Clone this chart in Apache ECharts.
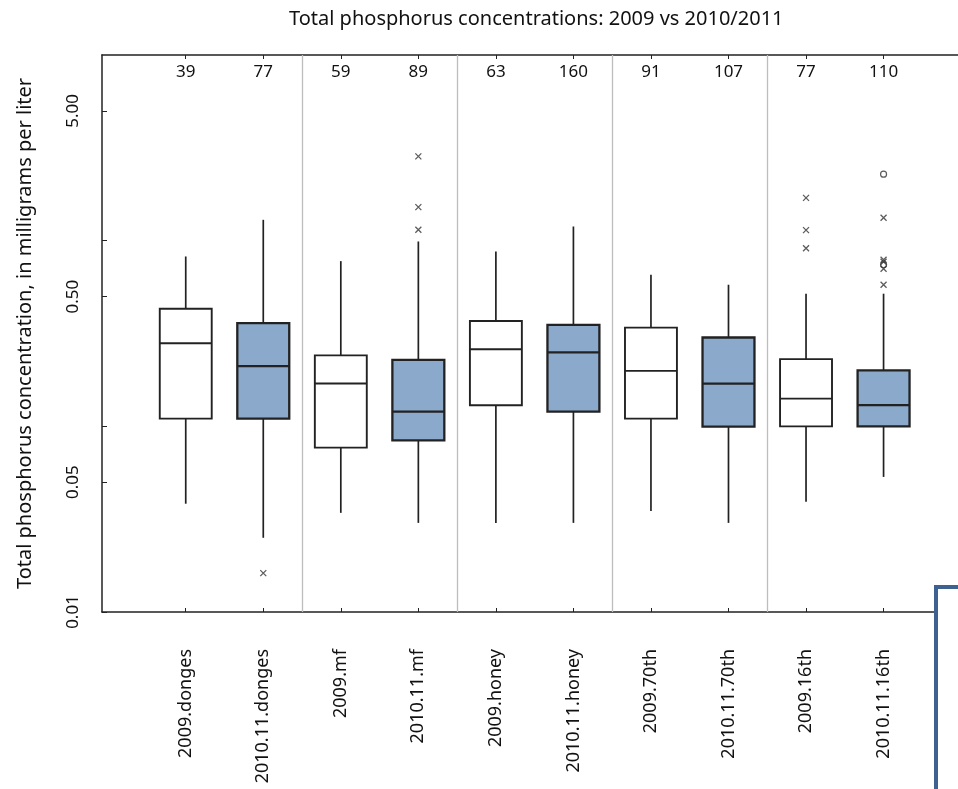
<!DOCTYPE html>
<html><head><meta charset="utf-8">
<script src="https://cdn.jsdelivr.net/npm/echarts@6/dist/echarts.min.js"></script>
<style>html,body{margin:0;padding:0;background:#fff}#c{width:958px;height:789px}</style>
</head><body><div id="c"></div>
<script>
// ---- data ----
const categories = ['2009.donges','2010.11.donges','2009.mf','2010.11.mf','2009.honey','2010.11.honey','2009.70th','2010.11.70th','2009.16th','2010.11.16th'];
const counts = [39, 77, 59, 89, 63, 160, 91, 107, 77, 110];
const whiskerLow  = [0.0383, 0.0251, 0.0342, 0.0302, 0.0302, 0.0302, 0.0350, 0.0302, 0.0392, 0.0534];
const q1          = [0.110, 0.110, 0.0768, 0.0840, 0.130, 0.120, 0.110, 0.0996, 0.100, 0.100];
const median      = [0.280, 0.211, 0.170, 0.120, 0.260, 0.250, 0.199, 0.170, 0.141, 0.130];
const q3          = [0.430, 0.360, 0.241, 0.228, 0.369, 0.352, 0.340, 0.301, 0.230, 0.200];
const whiskerHigh = [0.822, 1.295, 0.776, 0.990, 0.875, 1.192, 0.655, 0.579, 0.518, 0.518];
const period      = ['2009','2010/11','2009','2010/11','2009','2010/11','2009','2010/11','2009','2010/11'];
// outliers: [category index (0-based), value]
const outliersCross = [[1, 0.0162], [3, 2.845], [3, 1.516], [3, 1.144], [8, 1.70], [8, 1.14], [8, 0.91],
                       [9, 1.33], [9, 0.789], [9, 0.77], [9, 0.706], [9, 0.579]];
const outliersCircle = [[9, 2.28], [9, 0.741]];
const separators = [2.5, 4.5, 6.5, 8.5];
const yTickValues = [0.01, 0.05, 0.1, 0.5, 1, 5];
const yLabelValues = [0.01, 0.05, 0.5, 5];

// ---- build ----
const positions = categories.map((c, i) => i + 1);
const boxData = categories.map((c, i) => [i + 1, whiskerLow[i], q1[i], median[i], q3[i], whiskerHigh[i], period[i] === '2009' ? 0 : 1]);
const FONT = 'Noto Sans';
const INK = '#222';
const X_MIN = -0.08, X_MAX = 10.96;

const chart = echarts.init(document.getElementById('c'), null, {renderer: 'canvas'});
chart.setOption({
  animation: false,
  backgroundColor: '#fff',
  title: {
    text: 'Total phosphorus concentrations: 2009 vs 2010/2011',
    left: 284, top: 4,
    textStyle: {fontFamily: FONT, fontSize: 20, fontWeight: 'normal', color: '#111'}
  },
  grid: {left: 102, top: 55, bottom: 177, right: 0},
  xAxis: [{
    type: 'value', position: 'bottom', min: X_MIN, max: X_MAX,
    axisLine: {show: true, onZero: false, lineStyle: {color: INK, width: 1.5}},
    axisTick: {show: true, inside: true, length: 4, customValues: positions, lineStyle: {color: INK}},
    axisLabel: {customValues: positions, formatter: v => categories[Math.round(v) - 1], rotate: 90, margin: 37,
      fontFamily: FONT, fontSize: 18, color: '#111'},
    splitLine: {show: false}
  }, {
    type: 'value', position: 'top', min: X_MIN, max: X_MAX,
    axisLine: {show: true, onZero: false, lineStyle: {color: INK, width: 1.5}},
    axisTick: {show: true, inside: true, length: 4, customValues: positions, lineStyle: {color: INK}},
    axisLabel: {inside: true, customValues: positions, formatter: v => String(counts[Math.round(v) - 1]), margin: 9,
      fontFamily: FONT, fontSize: 17, color: '#111'},
    splitLine: {show: false}
  }],
  yAxis: {
    type: 'log', logBase: 10, min: 0.01, max: 10,
    name: 'Total phosphorus concentration, in milligrams per liter',
    nameLocation: 'middle', nameRotate: 90, nameGap: 67,
    nameTextStyle: {fontFamily: FONT, fontSize: 20, color: '#111'},
    axisLine: {show: true, onZero: false, lineStyle: {color: INK, width: 1.5}},
    axisTick: {show: true, inside: true, length: 5, customValues: yTickValues, lineStyle: {color: INK}},
    axisLabel: {customValues: yLabelValues, rotate: 90, formatter: v => Number(v).toFixed(2), margin: 20,
      fontFamily: FONT, fontSize: 17, color: '#111'},
    splitLine: {show: false}
  },
  series: [{
    type: 'custom',
    xAxisIndex: 0,
    data: boxData,
    clip: false,
    renderItem: function (params, api) {
      const x = api.value(0);
      const lo = api.coord([x, api.value(1)]);
      const b1 = api.coord([x, api.value(2)]);
      const md = api.coord([x, api.value(3)]);
      const b3 = api.coord([x, api.value(4)]);
      const hi = api.coord([x, api.value(5)]);
      const xl = api.coord([x - 0.335, api.value(3)])[0];
      const xr = api.coord([x + 0.335, api.value(3)])[0];
      const filled = api.value(6) === 1;
      const lw = filled ? 2.3 : 1.9;
      return {type: 'group', children: [
        {type: 'line', shape: {x1: lo[0], y1: lo[1], x2: b1[0], y2: b1[1]}, style: {stroke: INK, lineWidth: 1.7}},
        {type: 'line', shape: {x1: b3[0], y1: b3[1], x2: hi[0], y2: hi[1]}, style: {stroke: INK, lineWidth: 1.7}},
        {type: 'rect', shape: {x: xl, y: b3[1], width: xr - xl, height: b1[1] - b3[1]},
          style: {fill: filled ? '#8aa9cb' : '#fff', stroke: INK, lineWidth: lw}},
        {type: 'line', shape: {x1: xl, y1: md[1], x2: xr, y2: md[1]}, style: {stroke: INK, lineWidth: lw}}
      ]};
    },
    markLine: {
      silent: true, symbol: 'none', label: {show: false},
      lineStyle: {color: '#bdbdbd', width: 1.3, type: 'solid'},
      data: separators.map(s => ({xAxis: s}))
    },
    z: 2
  }, {
    type: 'scatter',
    xAxisIndex: 0,
    data: outliersCross.map(d => [d[0] + 1, d[1]]),
    symbol: 'path://M0,0L10,10M10,0L0,10',
    symbolSize: 6,
    itemStyle: {color: 'none', borderColor: '#333', borderWidth: 1.3},
    z: 3
  }, {
    type: 'scatter',
    xAxisIndex: 0,
    data: outliersCircle.map(d => [d[0] + 1, d[1]]),
    symbol: 'circle',
    symbolSize: 6,
    itemStyle: {color: 'none', borderColor: '#333', borderWidth: 1.2},
    z: 3
  }],
  graphic: [{
    type: 'rect', z: 100,
    shape: {x: 936, y: 587, width: 60, height: 240},
    style: {fill: '#fff', stroke: '#3d6191', lineWidth: 4}
  }]
});
</script></body></html>
